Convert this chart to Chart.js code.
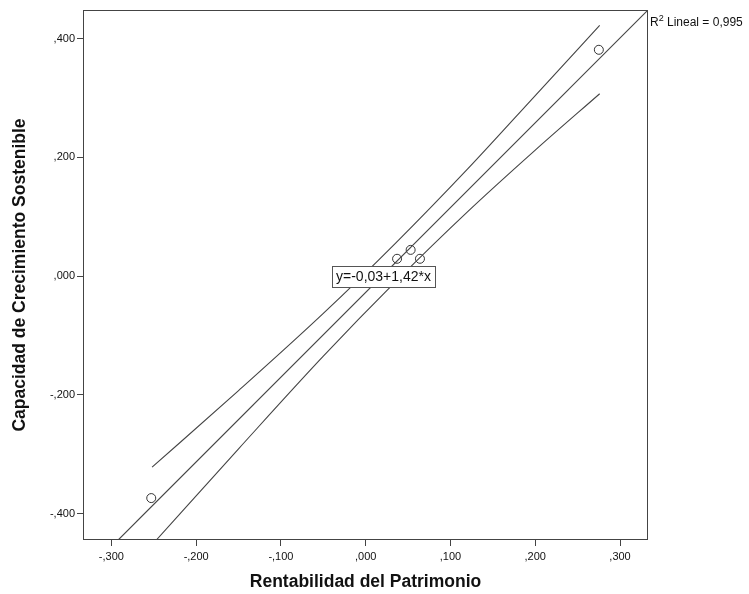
<!DOCTYPE html>
<html>
<head>
<meta charset="utf-8">
<script src="https://cdn.jsdelivr.net/npm/chart.js@4/dist/chart.umd.min.js"></script>
<style>
  html, body { margin: 0; padding: 0; background: #fff; }
  #wrap { width: 749px; height: 594px; position: relative; }
</style>
</head>
<body>
<div id="wrap"><canvas id="grafico"></canvas></div>
<script>
// puntos observados
const rentabilidad = [-0.253, 0.037, 0.053, 0.064, 0.275];
const crecimiento = [-0.374, 0.029, 0.044, 0.029, 0.381];

// recta de ajuste
const ajusteX = [-0.292, 0.333];
const ajusteY = [-0.4446, 0.448];

// bandas de confianza
const superiorX = [-0.252, -0.150, -0.050, 0.035, 0.120, 0.200, 0.276];
const superiorY = [-0.322, -0.193, -0.063, 0.055, 0.180, 0.304, 0.422];
const inferiorX = [-0.247, -0.150, -0.050, 0.035, 0.120, 0.200, 0.276];
const inferiorY = [-0.4446, -0.291, -0.135, -0.010, 0.108, 0.212, 0.307];

const xTicks = [-0.3, -0.2, -0.1, 0, 0.1, 0.2, 0.3];
const xTickLabels = ['-,300', '-,200', '-,100', ',000', ',100', ',200', ',300'];
const yTicks = [-0.4, -0.2, 0, 0.2, 0.4];
const yTickLabels = ['-,400', '-,200', ',000', ',200', ',400'];

const ecuacion = 'y=-0,03+1,42*x';
const ecuacionPos = [0.021, 0.0];
const r2Texto = ['R', '2', ' Lineal = 0,995'];

const fam = '"Liberation Sans", Arial, sans-serif';
const gris = '#444';

function pares(xs, ys) {
    return xs.map((x, i) => ({ x: x, y: ys[i] }));
}

const marco = {
    id: 'marco',
    afterDraw(chart) {
        const { ctx, chartArea: a, scales } = chart;
        ctx.save();
        ctx.strokeStyle = gris;
        ctx.lineWidth = 1;
        ctx.strokeRect(Math.round(a.left) + 0.5, Math.round(a.top) + 0.5,
            Math.round(a.right - a.left) - 1, Math.round(a.bottom - a.top) - 1);

        // etiqueta de la ecuacion
        ctx.font = '14px ' + fam;
        const w = ctx.measureText(ecuacion).width + 8;
        const h = 21;
        const cx = scales.x.getPixelForValue(ecuacionPos[0]);
        const cy = scales.y.getPixelForValue(ecuacionPos[1]);
        ctx.fillStyle = '#fff';
        ctx.fillRect(Math.round(cx - w / 2) + 0.5, Math.round(cy - h / 2) + 0.5, Math.round(w), h);
        ctx.strokeStyle = '#555';
        ctx.strokeRect(Math.round(cx - w / 2) + 0.5, Math.round(cy - h / 2) + 0.5, Math.round(w), h);
        ctx.fillStyle = '#111';
        ctx.textAlign = 'center';
        ctx.textBaseline = 'middle';
        ctx.fillText(ecuacion, cx, cy + 1);

        // R2
        ctx.textAlign = 'left';
        ctx.textBaseline = 'alphabetic';
        let x = a.right + 2;
        const base = a.top + 16;
        ctx.font = '12px ' + fam;
        ctx.fillText(r2Texto[0], x, base);
        x += ctx.measureText(r2Texto[0]).width;
        ctx.font = '9px ' + fam;
        ctx.fillText(r2Texto[1], x, base - 5);
        x += ctx.measureText(r2Texto[1]).width;
        ctx.font = '12px ' + fam;
        ctx.fillText(r2Texto[2], x, base);
        ctx.restore();
    }
};

const linea = (data) => ({
    data: data,
    showLine: true,
    borderColor: gris,
    borderWidth: 1.1,
    pointRadius: 0,
    fill: false,
    cubicInterpolationMode: 'monotone'
});

new Chart(document.getElementById('grafico'), {
    type: 'scatter',
    data: {
        datasets: [
            linea(pares(ajusteX, ajusteY)),
            linea(pares(superiorX, superiorY)),
            linea(pares(inferiorX, inferiorY)),
            {
                data: pares(rentabilidad, crecimiento),
                pointStyle: 'circle',
                pointRadius: 4.5,
                borderColor: '#333',
                borderWidth: 1,
                backgroundColor: 'rgba(255,255,255,0)'
            }
        ]
    },
    options: {
        responsive: true,
        maintainAspectRatio: false,
        animation: false,
        layout: { padding: { top: 10, right: 101, left: 0, bottom: 0 } },
        plugins: {
            legend: { display: false },
            tooltip: { enabled: false }
        },
        scales: {
            x: {
                type: 'linear',
                position: 'bottom',
                min: -0.3335,
                max: 0.333,
                afterBuildTicks: (s) => { s.ticks = xTicks.map(v => ({ value: v })); },
                afterFit: (s) => { s.height = 54; },
                grid: { display: true, drawOnChartArea: false, tickLength: 6, color: gris },
                border: { display: false },
                ticks: {
                    font: { family: fam, size: 11 },
                    color: '#111',
                    padding: 4,
                    maxRotation: 0,
                    callback: (v, i) => xTickLabels[i]
                },
                title: {
                    display: true,
                    text: 'Rentabilidad del Patrimonio',
                    font: { family: fam, size: 17.5, weight: 'bold' },
                    color: '#111',
                    padding: { top: 0, bottom: 1.5 }
                }
            },
            y: {
                type: 'linear',
                min: -0.4446,
                max: 0.448,
                afterBuildTicks: (s) => { s.ticks = yTicks.map(v => ({ value: v })); },
                afterFit: (s) => { s.width = 83; },
                grid: { display: true, drawOnChartArea: false, tickLength: 6, color: gris },
                border: { display: false },
                ticks: {
                    font: { family: fam, size: 11 },
                    color: '#111',
                    padding: 2,
                    callback: (v, i) => yTickLabels[i]
                },
                title: {
                    display: true,
                    text: 'Capacidad de Crecimiento Sostenible',
                    font: { family: fam, size: 17.5, weight: 'bold' },
                    color: '#111',
                    padding: { top: 9.5, bottom: 0 }
                }
            }
        }
    },
    plugins: [marco]
});
</script>
</body>
</html>
